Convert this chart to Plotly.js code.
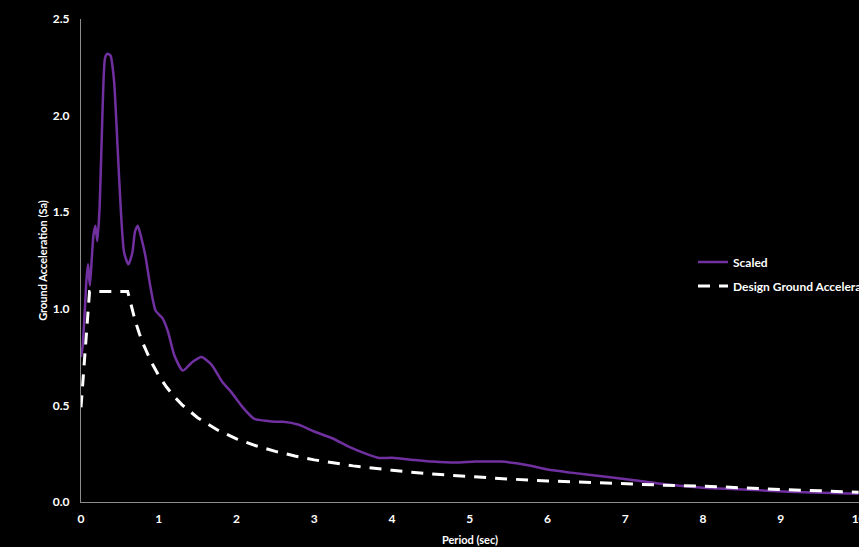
<!DOCTYPE html>
<html>
<head>
<meta charset="utf-8">
<script src="https://cdn.plot.ly/plotly-3.0.1.min.js"></script>
<style>html,body{margin:0;padding:0;background:#000;overflow:hidden;}#chart{width:859px;height:547px;}</style>
</head>
<body>
<div id="chart"></div>
<script>
// Scaled response spectrum (period in sec, Sa)
const scaledPeriod = [0.0, 0.02, 0.05, 0.07, 0.09, 0.1, 0.115, 0.14, 0.16, 0.185, 0.21, 0.24, 0.275, 0.31, 0.34, 0.38, 0.425, 0.47, 0.515, 0.555, 0.61, 0.66, 0.695, 0.73, 0.78, 0.83, 0.89, 0.96, 1.05, 1.12, 1.2, 1.31, 1.42, 1.55, 1.68, 1.82, 1.93, 2.08, 2.23, 2.38, 2.5, 2.6, 2.8, 3.0, 3.23, 3.45, 3.66, 3.83, 4.0, 4.3, 4.52, 4.82, 5.07, 5.4, 5.6, 5.8, 6.0, 6.3, 6.75, 7.17, 7.6, 8.0, 8.45, 8.9, 9.3, 10.0];
const scaledSa = [0.75, 0.80, 1.0, 1.15, 1.23, 1.18, 1.12, 1.27, 1.38, 1.43, 1.35, 1.53, 2.0, 2.30, 2.32, 2.31, 2.18, 1.84, 1.49, 1.29, 1.23, 1.29, 1.40, 1.43, 1.36, 1.27, 1.12, 0.99, 0.95, 0.88, 0.76, 0.68, 0.72, 0.75, 0.71, 0.62, 0.57, 0.49, 0.43, 0.42, 0.415, 0.415, 0.40, 0.365, 0.33, 0.285, 0.25, 0.228, 0.229, 0.217, 0.209, 0.204, 0.209, 0.209, 0.20, 0.186, 0.168, 0.152, 0.131, 0.110, 0.088, 0.074, 0.066, 0.057, 0.050, 0.043];

// Design ground acceleration spectrum
const designPeriod = [0, 0.11, 0.6, 0.65, 0.7, 0.75, 0.8, 0.9, 1.0, 1.1, 1.2, 1.3, 1.4, 1.5, 1.75, 2.0, 2.25, 2.5, 2.75, 3.0, 3.5, 4.0, 4.5, 5.0, 5.5, 6.0, 6.5, 7.0, 7.5, 8.0, 8.5, 9.0, 9.5, 10.0];
const designSa = [0.49, 1.09, 1.09, 1.006, 0.934, 0.872, 0.818, 0.727, 0.654, 0.595, 0.545, 0.503, 0.467, 0.436, 0.374, 0.327, 0.291, 0.262, 0.238, 0.218, 0.187, 0.164, 0.145, 0.131, 0.119, 0.109, 0.101, 0.093, 0.087, 0.082, 0.072, 0.065, 0.058, 0.050];

const seriesNames = ["Scaled", "Design Ground Acceleration"];
const xTickVals = [0, 1, 2, 3, 4, 5, 6, 7, 8, 9, 10];
const yTickVals = [0.0, 0.5, 1.0, 1.5, 2.0, 2.5];

const font = "Lato, 'Open Sans', sans-serif";

const traces = [
  {
    x: scaledPeriod, y: scaledSa, name: seriesNames[0], type: "scatter", mode: "lines",
    line: {color: "#7030A0", width: 2.5, shape: "spline", smoothing: 0.6},
    legendgroup: "a", hoverinfo: "skip"
  },
  {
    x: designPeriod, y: designSa, name: seriesNames[1], type: "scatter", mode: "lines",
    line: {color: "#ffffff", width: 3, dash: "12px,9px", shape: "linear"},
    legendgroup: "b", hoverinfo: "skip"
  }
];

const layout = {
  width: 859, height: 547,
  paper_bgcolor: "#000000", plot_bgcolor: "#000000",
  margin: {l: 81, r: 0, t: 19, b: 45, autoexpand: false},
  showlegend: true,
  font: {family: font, color: "#ffffff", size: 12},
  xaxis: {
    range: [0, 10.005], tickvals: xTickVals, ticktext: xTickVals.map(String),
    showgrid: false, zeroline: false, showline: true, linecolor: "#8c8c8c", linewidth: 1,
    ticks: "", automargin: false, ticklabelstandoff: 6, ticklabeloverflow: "allow",
    tickfont: {family: font, size: 12, color: "#ffffff", weight: "bold"},
    title: {text: "<b>Period (sec)</b>", font: {family: font, size: 11, color: "#ffffff"}, standoff: 10}
  },
  yaxis: {
    range: [0, 2.5], tickvals: yTickVals, ticktext: yTickVals.map(v => v.toFixed(1)),
    showgrid: false, zeroline: false, showline: true, linecolor: "#8c8c8c", linewidth: 1,
    ticks: "", automargin: false, ticklabelstandoff: 8,
    tickfont: {family: font, size: 12, color: "#ffffff", weight: "bold"},
    title: {text: "<b>Ground Acceleration (Sa)</b>", font: {family: font, size: 11, color: "#ffffff"}, standoff: 2}
  },
  legend: {
    x: 0.766, xanchor: "left", y: 0.472, yanchor: "middle",
    bgcolor: "rgba(0,0,0,0)", borderwidth: 0,
    font: {family: font, size: 12, color: "#ffffff", weight: "bold"},
    traceorder: "grouped", tracegroupgap: 5
  }
};

Plotly.newPlot("chart", traces, layout, {displayModeBar: false, staticPlot: true}).then(function (gd) {
  // The reference legend runs past the right edge of the picture; place it there.
  const lg = gd.querySelector("g.legend");
  if (lg) {
    const t = lg.getAttribute("transform") || "";
    const m = t.match(/translate\(\s*([-\d.]+)[ ,]+([-\d.]+)\s*\)/);
    if (m) lg.setAttribute("transform", "translate(693," + m[2] + ")");
  }
});
</script>
</body>
</html>
